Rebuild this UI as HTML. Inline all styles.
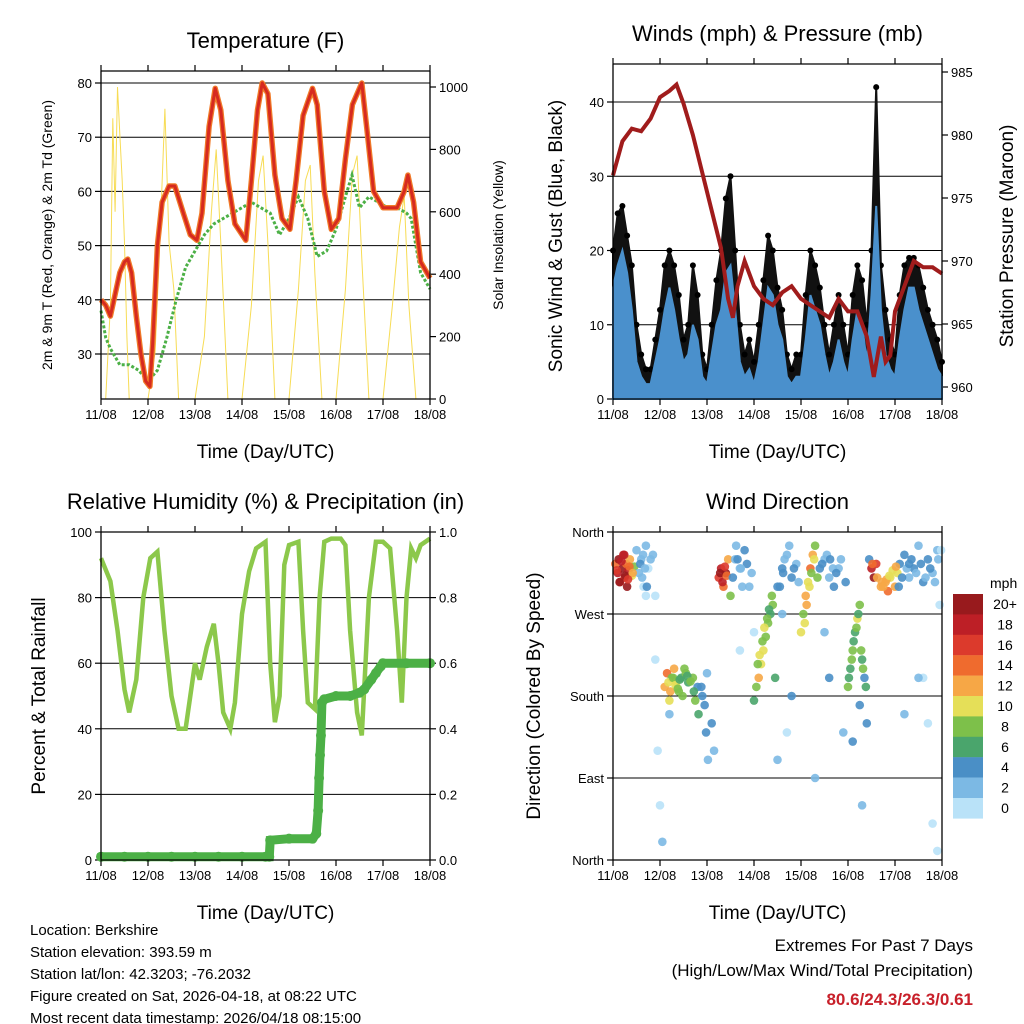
<!DOCTYPE html>
<html><head><meta charset="utf-8"><style>
body{margin:0;background:#fff}
svg{display:block;font-family:"Liberation Sans",sans-serif}
</style></head><body>
<svg id="s" width="1024" height="1024" viewBox="0 0 1024 1024" xmlns="http://www.w3.org/2000/svg">
<rect width="1024" height="1024" fill="#fff"/>
<g id="g1"></g>
<g id="g2"></g>
<g id="g3"></g>
<g id="g4"></g>
<g font-size="15" fill="#000">
<text x="30" y="935">Location: Berkshire</text>
<text x="30" y="957">Station elevation: 393.59 m</text>
<text x="30" y="979">Station lat/lon: 42.3203; -76.2032</text>
<text x="30" y="1001">Figure created on Sat, 2026-04-18, at 08:22 UTC</text>
<text x="30" y="1023">Most recent data timestamp: 2026/04/18 08:15:00</text>
</g>
<g text-anchor="end">
<text x="973" y="951" font-size="17">Extremes For Past 7 Days</text>
<text x="973" y="976" font-size="17">(High/Low/Max Wind/Total Precipitation)</text>
<text x="973" y="1005" font-size="17" font-weight="bold" fill="#c8202a">80.6/24.3/26.3/0.61</text>
</g>
</svg>
<script>
// ---- data ----
const dayLabels=["11/08","12/08","13/08","14/08","15/08","16/08","17/08","18/08"];
const tempT=[0,0.1,0.2,0.3,0.4,0.5,0.57,0.65,0.75,0.85,0.95,1.04,1.1,1.2,1.3,1.45,1.57,1.75,1.9,2.04,2.15,2.3,2.43,2.55,2.7,2.85,3.08,3.2,3.33,3.43,3.55,3.7,3.85,4.02,4.15,4.3,4.5,4.6,4.75,4.9,5.06,5.2,5.35,5.55,5.65,5.8,6.0,6.15,6.3,6.45,6.53,6.65,6.8,7.0];
const tempVals=[40,39,37,41,45,47,47.5,45,37,30,25,24,32,50,58,61,61,56,52,51,56,72,79,75,62,54,51,62,75,80,78,63,55,53,62,74,79,76,60,53,55,66,76,80,72,60,57,57,57,60,63,58,47,44];
const dewT=[0,0.1,0.2,0.4,0.6,0.8,1.0,1.2,1.4,1.6,1.8,2.0,2.2,2.4,2.6,2.8,3.0,3.2,3.4,3.6,3.8,4.0,4.2,4.4,4.6,4.8,5.0,5.2,5.34,5.5,5.7,5.9,6.1,6.3,6.5,6.6,6.7,6.8,7.0];
const dewVals=[38,33,31,28,28,27,25,27,33,40,46,49,52,54,55,56,57,58,57,56,52,55,59,55,48,49,53,59,63,57,59,58,57,57,56,55,50,45,42];
const solarT=[0,0.1,0.2,0.25,0.3,0.35,0.4,0.45,0.5,0.55,0.6,1.0,1.15,1.25,1.36,1.45,1.55,1.65,2.0,2.2,2.35,2.45,2.55,2.7,3.0,3.2,3.35,3.45,3.55,3.7,4.0,4.2,4.35,4.45,4.55,4.7,5.0,5.2,5.35,5.45,5.55,5.7,6.0,6.2,6.35,6.45,6.55,6.7,7.0];
const solarVals=[0,0,300,900,600,1000,850,700,500,200,0,0,150,500,930,500,350,0,0,200,600,800,500,0,0,300,700,780,500,0,0,350,700,750,400,0,0,350,720,780,450,0,0,300,550,650,300,0,0];
const windT=[0,0.1,0.2,0.3,0.4,0.5,0.6,0.7,0.8,0.9,1.0,1.1,1.2,1.3,1.4,1.5,1.6,1.7,1.8,1.9,2.0,2.1,2.2,2.3,2.4,2.5,2.6,2.7,2.8,2.9,3.0,3.1,3.2,3.3,3.4,3.5,3.6,3.7,3.8,3.9,4.0,4.1,4.2,4.3,4.4,4.5,4.6,4.7,4.8,4.9,5.0,5.1,5.2,5.3,5.4,5.5,5.6,5.7,5.8,5.9,6.0,6.1,6.2,6.3,6.4,6.5,6.6,6.7,6.8,6.9,7.0];
const windVals=[15,18,20,17,12,5,3,2,2,5,8,12,15,12,8,5,6,10,8,3,2,6,10,12,17,18,12,5,3,4,2,5,10,15,14,10,8,3,2,3,3,8,14,12,10,6,3,5,8,5,3,8,12,10,5,14,26,12,6,4,3,8,12,15,15,12,10,8,6,4,3];
const gustVals=[20,25,26,22,18,10,6,4,4,8,12,18,20,18,14,8,10,18,14,6,4,10,16,20,27,30,20,10,6,8,5,10,16,22,20,15,12,6,4,6,6,14,20,18,15,10,6,10,14,10,6,14,18,16,10,20,42,18,12,8,6,14,18,19,19,18,15,12,10,8,5];
const presT=[0,0.2,0.4,0.6,0.8,1.0,1.2,1.35,1.5,1.7,1.9,2.1,2.3,2.45,2.55,2.65,2.8,3.0,3.2,3.4,3.6,3.8,4.0,4.2,4.4,4.6,4.8,5.0,5.2,5.4,5.55,5.7,5.8,5.9,6.0,6.2,6.4,6.6,6.8,7.0];
const presVals=[976.8,979.5,980.5,980.3,981.3,983,983.5,984,982.5,980,977,974,971,967,965.5,968,970,968,967,966.5,967.5,968,967,966.5,966,965.5,967,966,966,964,960.8,964,962,962.5,966,968,970,969.5,969.5,969];
const rhT=[0,0.2,0.35,0.5,0.6,0.75,0.9,1.05,1.2,1.35,1.5,1.65,1.8,1.9,2.0,2.1,2.25,2.4,2.5,2.6,2.75,2.85,3.0,3.15,3.3,3.5,3.6,3.7,3.8,3.9,4.0,4.2,4.3,4.4,4.55,4.65,4.75,4.9,5.1,5.2,5.3,5.45,5.55,5.7,5.85,6.0,6.15,6.3,6.4,6.5,6.6,6.7,6.8,7.0];
const rhVals=[92,85,70,52,45,55,80,92,94,70,50,40,40,50,60,55,65,72,60,45,40,48,75,88,95,97,60,42,50,90,96,97,70,48,46,80,97,98,98,96,70,45,38,80,97,97,95,70,48,80,95,92,96,98];
const rainT=[0,0.5,1,1.5,2,2.5,3,3.5,3.58,3.6,4,4.5,4.58,4.62,4.64,4.66,4.68,4.7,4.75,5,5.3,5.5,5.6,5.75,5.85,5.95,6,6.5,7];
const rainVals=[0.01,0.01,0.01,0.01,0.01,0.01,0.01,0.01,0.01,0.06,0.065,0.065,0.08,0.15,0.25,0.32,0.38,0.48,0.49,0.5,0.5,0.51,0.52,0.55,0.57,0.59,0.6,0.6,0.6];
const wdT=[0.05,0.1,0.12,0.15,0.2,0.22,0.25,0.28,0.3,0.33,0.36,0.4,0.45,0.5,0.55,0.6,0.65,0.7,0.75,0.85,0.9,0.9,1.0,1.05,0.95,1.2,1.1,1.15,1.2,1.25,1.3,1.35,1.4,1.45,1.55,1.6,1.7,1.8,1.9,2.0,2.1,2.15,2.25,2.3,2.35,2.4,2.45,2.5,2.6,2.7,2.8,2.9,3.0,2.7,3.0,3.05,3.1,3.15,3.2,3.25,3.3,3.35,3.4,3.5,3.6,3.7,3.8,3.9,3.45,3.5,3.7,4.0,4.05,4.1,4.15,4.2,4.25,4.3,4.4,4.5,4.6,4.7,4.8,4.9,4.3,5.0,5.05,5.1,5.15,5.2,5.25,5.3,5.35,5.4,5.1,5.3,5.5,5.55,5.6,5.7,5.8,5.85,5.9,6.0,6.05,6.1,6.2,6.3,6.4,6.5,6.6,6.7,6.8,6.9,6.95,6.6,6.2,6.8,6.9,
0.08,0.18,0.26,0.35,0.42,0.14,0.24,0.32,0.58,0.62,0.68,0.72,0.8,0.64,0.7,1.18,1.22,1.28,1.33,1.38,1.42,1.48,1.52,1.58,1.65,1.72,1.75,1.82,1.88,1.95,1.98,2.02,2.28,2.33,2.38,2.42,2.55,2.65,2.75,2.85,2.95,2.62,2.72,3.08,3.12,3.18,3.22,3.28,3.32,3.38,3.55,3.62,3.65,3.75,3.85,3.95,3.6,3.8,4.08,4.12,4.18,4.22,4.28,4.35,4.45,4.55,4.62,4.68,4.75,4.85,4.95,4.5,4.6,5.02,5.08,5.12,5.18,5.22,5.28,5.32,5.38,5.25,5.45,5.52,5.62,5.72,5.75,5.82,5.88,5.95,6.02,6.08,6.15,6.25,6.35,6.45,6.55,6.65,6.75,6.85,6.92,6.98,6.3,6.5,6.7];
const wdDir=[325,315,330,305,320,335,310,325,300,318,330,312,322,340,315,330,300,345,320,335,290,220,60,20,120,160,190,205,175,200,210,195,185,200,205,195,200,190,180,205,150,120,310,320,300,315,330,290,330,320,340,300,250,230,175,190,200,215,230,245,260,270,280,300,320,335,310,325,200,110,140,250,270,290,305,320,335,345,320,330,310,300,320,140,90,190,210,230,250,265,280,220,200,150,130,60,320,310,325,300,305,295,310,300,315,325,335,310,320,345,305,330,315,340,280,200,160,40,10,
318,328,312,322,315,305,335,308,325,310,320,300,330,335,290,195,185,200,192,188,198,180,210,202,196,185,175,160,190,170,140,110,315,305,322,312,310,330,300,325,315,345,320,215,225,240,255,265,275,290,300,315,330,345,320,305,270,180,260,280,300,315,330,310,325,335,330,320,315,330,305,250,200,200,220,240,255,270,230,210,190,170,330,325,310,305,300,308,312,318,322,300,310,320,330,315,325,310,320,305,330,340,325,200,150,260];
const wdSpd=[14,18,20,16,20,18,16,14,20,18,12,10,8,2,2,2,0,2,0,2,0,0,0,2,0,2,12,14,10,8,12,10,8,6,8,6,8,4,4,2,4,2,16,18,14,20,12,8,2,2,4,2,0,0,6,8,12,10,10,8,8,6,8,4,4,2,4,2,6,2,0,10,8,12,10,14,12,8,4,2,2,4,2,2,2,8,6,8,6,10,8,6,4,4,4,2,18,20,16,12,12,14,10,12,10,4,4,2,4,2,4,4,2,2,0,0,2,0,0,
16,18,20,14,12,20,18,16,4,2,2,4,2,2,0,10,12,8,10,8,6,8,8,6,8,6,8,6,4,4,4,2,20,18,16,14,4,4,2,4,2,2,2,8,10,8,10,8,6,8,4,4,2,2,4,2,2,4,10,12,10,8,10,8,4,2,4,2,4,2,4,2,4,6,8,6,8,6,8,8,6,4,4,14,12,12,12,12,10,10,12,4,4,2,4,2,4,2,4,2,2,0,4,2,0,2];
const cbLabels=["20+","18","16","14","12","10","8","6","4","2","0"];
const cbColors=["#981a1d","#bd1f26","#dc3a2c","#ef6b2e","#f6a746","#e5df58","#7dc04a","#4aa56c","#4a8fc6","#7cb9e4","#b9e2f8"];

// ---- helpers ----
const NS="http://www.w3.org/2000/svg";
function mk(p,tag,at,txt){const e=document.createElementNS(NS,tag);for(const k in at)e.setAttribute(k,at[k]);if(txt!==undefined)e.textContent=txt;p.appendChild(e);return e;}
function lin(d0,d1,r0,r1){return v=>r0+(v-d0)/(d1-d0)*(r1-r0);}
function frame(g,L,R,T,B,xs,title){
  const ln=(x1,y1,x2,y2)=>{const e=mk(g,'line',{x1,y1,x2,y2,stroke:'#000','stroke-width':1.3});};
  ln(L,T,L,B);ln(R,T,R,B);ln(L,B,R,B);ln(L,T,R,T);
  dayLabels.forEach((d,i)=>{const x=xs(i);
    const t=mk(g,'line',{x1:x,y1:B,x2:x,y2:B+6,stroke:'#000','stroke-width':1.2});
    const t2=mk(g,'line',{x1:x,y1:T,x2:x,y2:T-6,stroke:'#000','stroke-width':1.2});
    const tl=mk(g,'text',{x:x,y:B+20,'font-size':13,'text-anchor':'middle'},d);});
  const xt=mk(g,'text',{x:(L+R)/2,y:B+59,'font-size':19,'text-anchor':'middle'},'Time (Day/UTC)');
  const tt=mk(g,'text',{x:(L+R)/2,y:T-23,'font-size':22,'text-anchor':'middle'},title);
}
function yticks(g,x,ticks,ys,side,grid,L,R,fs,lab){
  ticks.forEach((v,i)=>{const y=ys(v);
    if(grid){const gl=mk(g,'line',{x1:L,y1:y,x2:R,y2:y,stroke:'#000','stroke-width':1});}
    const tk=mk(g,'line',{x1:x,y1:y,x2:x+(side<0?-6:6),y2:y,stroke:'#000','stroke-width':1.2});
    const t=mk(g,'text',{x:x+(side<0?-9:9),y:y+5,'font-size':fs||13,'text-anchor':side<0?'end':'start'},lab?lab[i]:v);});
}
function vlabel(g,x,y,txt,fs){const t=mk(g,'text',{x:0,y:0,'font-size':fs,'text-anchor':'middle',transform:`translate(${x},${y}) rotate(-90)`},txt);}
function path(xs,ys,X,Y){return X.map((t,i)=>(i?'L':'M')+xs(t).toFixed(1)+','+ys(Y[i]).toFixed(1)).join('');}

// ---- panel 1 ----
(function(){const g=document.getElementById('g1');const L=101,R=430,T=71,B=399;
const xs=lin(0,7,L,R),ys=lin(30,80,354,83),ss=lin(0,1000,399,87);
yticks(g,L,[30,40,50,60,70,80],ys,-1,true,L,R);
yticks(g,R,[0,200,400,600,800,1000],ss,1,false);
const so=mk(g,'path',{d:path(xs,ss,solarT,solarVals),fill:'none',stroke:'#f7dc55','stroke-width':1});
const dw=mk(g,'path',{d:path(xs,ys,dewT,dewVals),fill:'none',stroke:'#4cb046','stroke-width':3,'stroke-dasharray':'3 2'});
const t9=mk(g,'path',{d:path(xs,ys,tempT,tempVals),fill:'none',stroke:'#f07a28','stroke-width':5.5,'stroke-linejoin':'round'});
const t2=mk(g,'path',{d:path(xs,ys,tempT,tempVals),fill:'none',stroke:'#d62a20','stroke-width':3,'stroke-linejoin':'round'});
frame(g,L,R,T,B,i=>xs(i),'Temperature (F)');
vlabel(g,52,235,'2m & 9m T (Red, Orange) & 2m Td (Green)',14);
vlabel(g,503,235,'Solar Insolation (Yellow)',14);})();

// ---- panel 2 ----
(function(){const g=document.getElementById('g2');const L=613,R=942,T=64,B=399;
const xs=lin(0,7,L,R),ys=lin(0,40,399,102),ps=lin(960,985,387,72);
yticks(g,L,[0,10,20,30,40],ys,-1,true,L,R);
yticks(g,R,[960,965,970,975,980,985],ps,1,false);
const ga=mk(g,'path',{d:path(xs,ys,windT,gustVals)+`L${R},${B}L${L},${B}Z`,fill:'#111',stroke:'#111','stroke-width':2,'stroke-linejoin':'round'});
windT.forEach((t,i)=>{const c=mk(g,'circle',{cx:xs(t),cy:ys(gustVals[i]),r:3,fill:'#000'});});
const wa=mk(g,'path',{d:path(xs,ys,windT,windVals)+`L${R},${B}L${L},${B}Z`,fill:'#4a90cc',stroke:'#4a90cc','stroke-width':2});
const pr=mk(g,'path',{d:path(xs,ps,presT,presVals),fill:'none',stroke:'#a01c1c','stroke-width':4});
frame(g,L,R,T,B,i=>xs(i),'Winds (mph) & Pressure (mb)');
vlabel(g,562,236,'Sonic Wind & Gust (Blue, Black)',19);
vlabel(g,1013,236,'Station Pressure (Maroon)',19);})();

// ---- panel 3 ----
(function(){const g=document.getElementById('g3');const L=101,R=430,T=532,B=860;
const xs=lin(0,7,L,R),ys=lin(0,100,B,T),rs=lin(0,1,B,T);
yticks(g,L,[0,20,40,60,80,100],ys,-1,true,L,R);
yticks(g,R,[0,0.2,0.4,0.6,0.8,1.0],rs,1,false,0,0,13,["0.0","0.2","0.4","0.6","0.8","1.0"]);
const rh=mk(g,'path',{d:path(xs,ys,rhT,rhVals),fill:'none',stroke:'#8cc84b','stroke-width':4.5});
const rp=mk(g,'path',{d:path(xs,rs,rainT,rainVals),fill:'none',stroke:'#4cb046','stroke-width':9,'stroke-linecap':'round'});
rainT.forEach((t,i)=>{const c=mk(g,'circle',{cx:xs(t),cy:rs(rainVals[i]),r:5,fill:'#4cb046'});});
frame(g,L,R,T,B,i=>xs(i),'Relative Humidity (%) & Precipitation (in)');
vlabel(g,45,696,'Percent & Total Rainfall',19);})();

// ---- panel 4 ----
(function(){const g=document.getElementById('g4');const L=613,R=942,T=532,B=860;
const xs=lin(0,7,L,R),ds=lin(0,360,B,T);
yticks(g,L,[0,90,180,270,360],ds,-1,true,L,R,13,["North","East","South","West","North"]);
const col=s=>cbColors[10-Math.min(10,Math.floor(s/2))];
wdT.forEach((t,i)=>{const c=mk(g,'circle',{cx:xs(t),cy:ds(wdDir[i]),r:4.3,fill:col(wdSpd[i]),opacity:0.9});});
frame(g,L,R,T,B,i=>xs(i),'Wind Direction');
vlabel(g,540,696,'Direction (Colored By Speed)',19);
const mt=mk(g,'text',{x:990,y:588,'font-size':14},'mph');
cbLabels.forEach((l,i)=>{const y=594+i*20.4;
 const r=mk(g,'rect',{x:953,y:y,width:30,height:20.6,fill:cbColors[i]});
 const t=mk(g,'text',{x:1005,y:y+15,'font-size':14,'text-anchor':'middle'},l);});})();
</script>
</body></html>
